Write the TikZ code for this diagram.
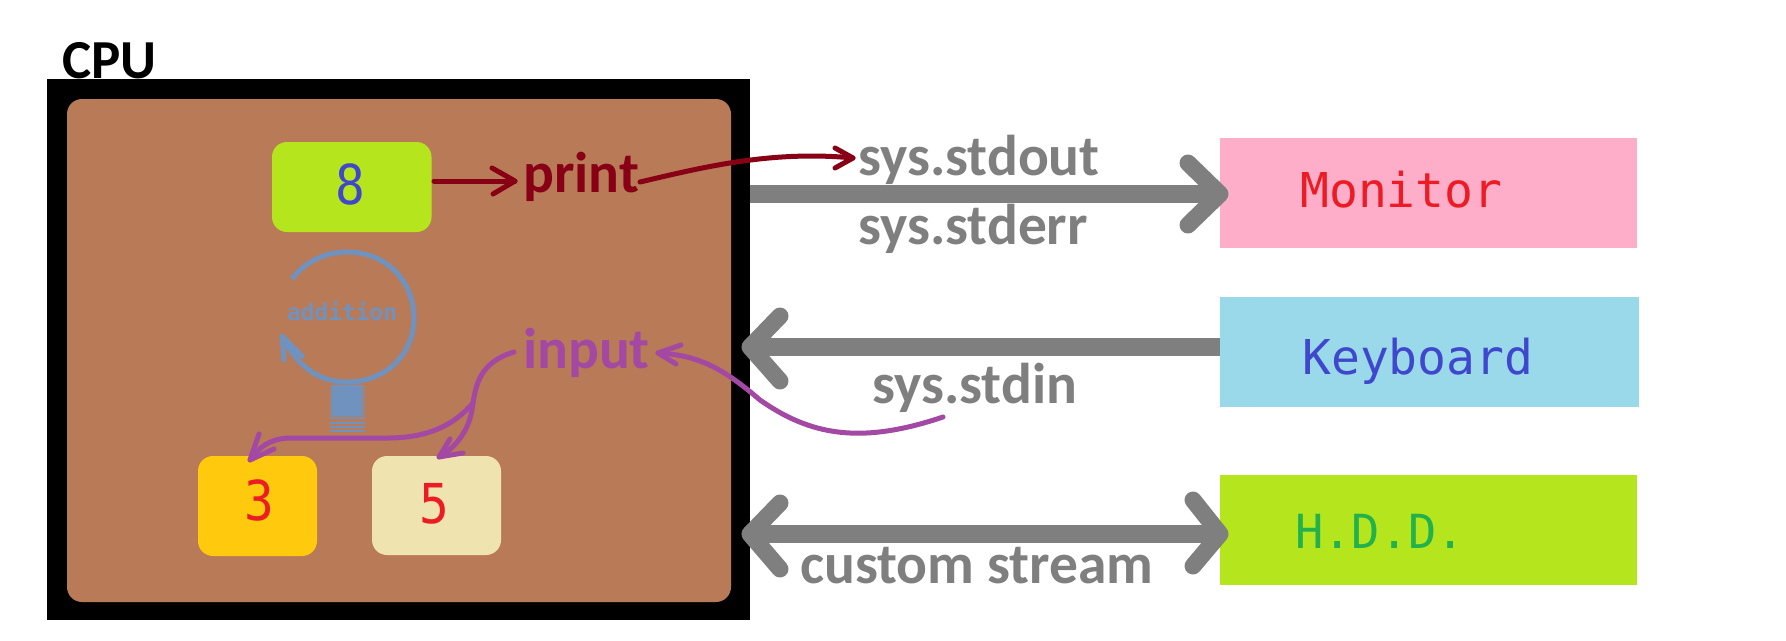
\documentclass[tikz,border=0pt]{standalone}
\usepackage{fontspec}
\setmainfont{Carlito}
\newfontfamily\monof{DejaVu Sans Mono}
\definecolor{brownc}{HTML}{B97A57}
\definecolor{limec}{HTML}{B5E61D}
\definecolor{goldc}{HTML}{FFC90E}
\definecolor{creamc}{HTML}{EFE4B0}
\definecolor{pinkc}{HTML}{FFAEC9}
\definecolor{skyc}{HTML}{99D9EA}
\definecolor{redc}{HTML}{ED1C24}
\definecolor{indc}{HTML}{3F48CC}
\definecolor{grnc}{HTML}{22B14C}
\definecolor{greyc}{HTML}{7F7F7F}
\definecolor{wine}{HTML}{880015}
\definecolor{purp}{HTML}{A349A4}
\definecolor{steel}{HTML}{7092BE}
\tikzset{
  x=1pt,y=-1pt,
  box/.style={rounded corners=15pt,inner sep=0,outer sep=0},
  lab/.style={font=\fontsize{57.5}{58}\selectfont\bfseries,anchor=base west,inner sep=0},
  cpulab/.style={font=\fontsize{55}{55}\selectfont\bfseries,anchor=base west,inner sep=0},
  mono/.style={font=\fontsize{48}{48}\selectfont\monof,anchor=base west,inner sep=0},
  digit/.style={font=\fontsize{55}{55}\selectfont\monof,inner sep=0,xscale=0.9},
  bigline/.style={draw=greyc,line width=18pt},
  barm/.style={draw=greyc,line width=17pt,line cap=round,line join=round},
  thin1/.style={line width=5pt,line cap=round,line join=round},
}
\begin{document}
\begin{tikzpicture}
\useasboundingbox (0,0) rectangle (1786,640);
\fill[white] (0,0) rectangle (1786,640);
\coordinate (a1s) at (750,194); \coordinate (a1t) at (1222,194);
\coordinate (a2s) at (1220,347); \coordinate (a2t) at (748,347);
\coordinate (a3s) at (748,534); \coordinate (a3t) at (1222,534);
\node[cpulab,text=black] (cpu) at (62,78) {CPU};
\fill[black] (47,79) rectangle (750,620);
\fill[brownc,rounded corners=15pt] (67,99) rectangle (731,602);
\fill[limec,box] (272,142) rectangle (431.5,232);
\fill[goldc,box] (198,456) rectangle (317,556);
\fill[creamc,box] (372,456) rectangle (501,555);
\coordinate (box8) at (434,181);
\node[digit,text=indc] (n8) at (350,184) {8};
\node[digit,text=redc] (n3) at (259,500) {3};
\node[digit,text=redc] (n5) at (434,504) {5};
\node[lab,text=wine] (print) at (523,192) {print};
\node[lab,text=purp] (input) at (523,368) {input};
% right boxes
\fill[pinkc] (1220,138) rectangle (1637,248);
\fill[skyc] (1220,297) rectangle (1639,407);
\fill[limec] (1220,475) rectangle (1637,585);
\node[mono,text=redc] (mon) at (1300,207) {Monitor};
\node[mono,text=indc] (key) at (1302,374) {Keyboard};
\node[mono,text=grnc] (hdd) at (1295,548) {\fontsize{47}{47}\selectfont H.D.D.};
% grey arrows
\draw[bigline] (a1s) -- (a1t);
\draw[barm] (1188,163) -- (1220,194) -- (1188,225);
\draw[bigline] (a2s) -- (a2t);
\draw[barm] (780,316) -- (750,347) -- (780,381);
\draw[bigline] (a3s) -- (a3t);
\draw[barm] (780,503) -- (750,534) -- (780,569);
\draw[barm] (1193,500) -- (1220,534) -- (1193,566);
\node[lab,text=greyc] (so) at (858,175) {sys.stdout};
\node[lab,text=greyc] (se) at (858,244) {sys.stderr};
\node[lab,text=greyc] (si) at (872,403) {sys.stdin};
\node[lab,text=greyc] (cs) at (800,583) {custom stream};
% print arrows
\draw[wine,thin1] (box8) -- (515,181);
\draw[wine,thin1] (492,168) -- (515,181) -- (493,194);
\coordinate (p1) at (640,182);
\coordinate (p2) at (853,158);
\draw[wine,thin1] (p1) .. controls (700,168) and (770,150) .. (p2);
\draw[wine,thin1] (835,148) -- (p2) -- (835,168);
% input arrows
\coordinate (i1) at (943,417);
\coordinate (i2) at (658,353);
\draw[purp,thin1] (i1) .. controls (860,445) and (810,435) .. (760,400) .. controls (725,370) and (700,355) .. (i2);
\draw[purp,thin1] (681,345) -- (i2) -- (676,364);
\coordinate (j0) at (514,352);
\coordinate (j1) at (473,403);
\coordinate (j5) at (439,457);
\coordinate (j3) at (250,460);
\draw[purp,thin1] (j0) .. controls (480,362) and (476,385) .. (j1) .. controls (471,425) and (460,445) .. (j5);
\draw[purp,thin1] (450,439) -- (j5) -- (463,453);
\draw[purp,thin1] (j1) .. controls (450,430) and (420,438) .. (388,438) -- (291,438) .. controls (270,438) and (258,448) .. (j3);
\draw[purp,thin1] (259,434) -- (j3) -- (274,449);
% addition loop
\coordinate (l1) at (292,279);
\coordinate (l2) at (282,336);
\draw[steel,line width=5pt,line join=round] (l1) .. controls (308,258) and (330,252) .. (347,252) .. controls (388,252) and (414,283) .. (414,318) .. controls (414,355) and (385,382) .. (347,382) .. controls (315,382) and (295,362) .. (l2);
\draw[steel,line width=5pt,line join=round,line cap=round] (284,360) -- (l2) -- (302,356);
\fill[steel] (332,385) rectangle (362,416);
\foreach \yy in {386,388,...,414} \draw[steel,line width=1pt] (330,\yy) -- (365,\yy);
\foreach \yy in {418,423,427,431} \draw[steel,line width=1.5pt] (330,\yy) -- (365,\yy);
\node[font=\fontsize{22.8}{23}\selectfont\monof\bfseries,text=steel,anchor=base west,inner sep=0] (add) at (287,320) {addition};
\end{tikzpicture}
\end{document}
